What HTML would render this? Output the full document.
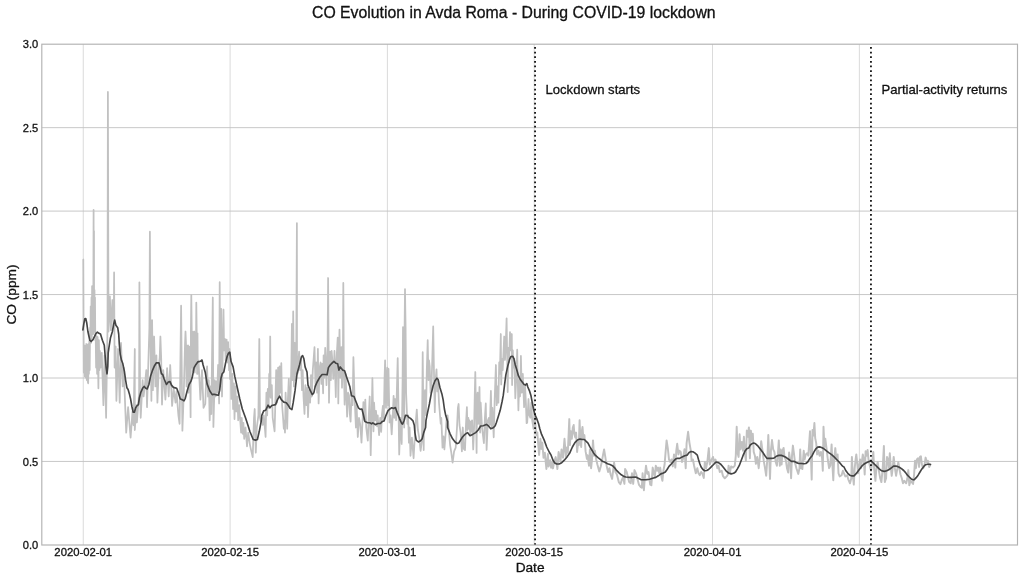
<!DOCTYPE html>
<html lang="en"><head><meta charset="utf-8"><title>CO Evolution in Avda Roma - During COVID-19 lockdown</title>
<style>html,body{margin:0;padding:0;background:#fff;overflow:hidden}svg{display:block}</style></head>
<body>
<svg width="1024" height="581" viewBox="0 0 1024 581">
<rect width="1024" height="581" fill="#fff"/>
<path d="M83.25 44.2V544.9M230.08 44.2V544.9M387.40 44.2V544.9M534.23 44.2V544.9M712.53 44.2V544.9M859.36 44.2V544.9" stroke="#d0d0d0" stroke-width="0.8" fill="none"/>
<path d="M41.8 461.45H1017.5M41.8 378.00H1017.5M41.8 294.55H1017.5M41.8 211.10H1017.5M41.8 127.65H1017.5" stroke="#c2c2c2" stroke-width="0.9" fill="none"/>
<path d="M83.3 259.5L83.8 372.6L84.3 345.3L84.8 376.4L85.3 345.9L85.8 377.6L86.3 344.0L86.8 380.1L87.3 344.6L87.8 382.0L88.2 383.3L88.6 344.0L88.9 373.8L89.3 340.9L89.7 370.1L90.1 327.7L90.3 340.2L90.7 306.3L91.1 342.8L91.5 297.5L91.8 337.7L92.1 286.2L92.5 331.5L92.8 296.3L93.2 334.0L93.6 209.9L93.7 308.8L94.0 231.0L94.1 327.7L94.5 290.0L94.7 331.5L95.0 297.5L95.3 340.2L95.7 336.5L96.1 367.6L96.6 336.0L97.1 373.8L97.6 337.1L98.4 388.3L98.9 340.2L99.4 370.1L99.9 350.9L100.6 367.6L101.8 352.8L103.4 405.2L104.6 355.3L106.1 417.8L107.5 327.7L107.9 91.9L108.5 331.5L109.9 296.3L110.9 330.2L112.4 300.0L113.7 327.7L114.1 272.4L114.6 367.6L115.6 346.5L116.4 400.8L118.1 349.0L119.7 402.7L121.0 342.8L122.7 386.4L123.7 367.6L126.2 432.6L128.1 407.1L130.6 437.6L132.5 411.5L133.5 425.3L134.8 349.0L134.8 430.0L136.3 405.2L136.9 422.5L139.1 392.7L139.4 282.3L140.1 392.7L140.7 417.8L142.6 380.1L143.6 396.5L144.8 386.4L146.3 370.1L147.0 407.1L148.2 367.6L149.4 327.7L149.9 231.7L150.4 334.0L151.4 400.8L152.1 320.1L152.9 390.2L154.1 336.5L155.4 386.4L156.4 355.3L157.4 402.7L158.9 365.0L159.7 357.5L160.4 336.5L161.2 358.8L162.0 404.6L163.3 370.1L165.4 399.6L167.1 368.2L168.7 396.5L170.2 365.0L172.1 405.9L173.7 388.9L175.5 402.7L176.5 391.4L178.4 415.3L179.6 423.8L181.1 305.7L182.4 430.7L183.8 392.7L185.0 344.0L185.5 331.5L186.0 344.0L186.5 386.4L187.0 345.9L187.5 380.1L188.0 345.3L188.5 392.7L189.1 346.5L189.6 390.2L189.9 347.2L190.6 417.2L190.9 331.5L191.3 295.0L191.7 327.7L192.2 367.6L192.6 331.5L192.9 371.3L193.3 332.1L193.8 367.6L194.3 331.5L194.8 372.6L195.3 332.7L195.7 367.6L196.1 331.5L196.3 302.6L196.7 331.5L197.1 373.8L197.5 333.3L197.8 373.8L198.5 360.3L200.4 399.6L202.0 370.1L203.5 407.8L205.3 404.0L206.3 373.8L207.1 366.3L208.0 396.5L208.8 380.1L209.7 420.3L210.5 386.4L211.3 414.0L212.8 297.5L213.4 426.9L214.7 380.1L215.6 396.5L216.3 381.4L217.2 392.7L218.1 365.0L219.1 403.4L219.7 282.2L220.3 386.4L221.2 308.8L222.0 396.5L223.5 309.5L224.1 350.3L225.1 339.0L225.6 360.3L226.6 339.6L227.4 362.5L228.1 342.1L229.1 370.1L229.5 349.0L230.0 378.9L230.6 358.8L231.3 399.0L232.3 373.8L233.1 409.0L233.9 383.3L234.5 419.1L235.4 386.4L236.4 411.5L237.4 396.5L238.2 420.3L239.2 405.2L241.1 432.6L241.7 417.8L242.7 433.8L243.4 422.8L244.2 438.8L245.5 427.5L247.0 446.4L248.2 432.6L250.0 445.1L251.1 450.1L252.7 457.1L254.0 417.8L254.7 409.0L255.8 452.7L256.8 427.5L258.4 415.3L259.3 339.0L260.0 417.8L260.8 421.3L261.8 417.8L262.8 425.0L263.8 415.3L265.6 437.0L266.4 392.7L267.2 415.3L267.8 388.9L268.6 407.8L269.2 373.8L269.6 396.5L270.2 336.5L270.7 397.7L271.8 385.1L272.7 417.8L274.6 431.3L275.6 392.7L276.2 370.1L277.1 402.7L278.1 367.6L279.0 396.5L279.6 366.3L280.4 392.7L281.3 363.2L282.1 405.2L282.9 415.3L283.8 428.8L284.4 420.3L285.0 432.6L285.6 392.7L287.2 428.8L287.9 399.0L288.8 378.9L289.7 407.8L290.7 391.4L291.4 362.5L291.9 323.9L292.6 380.1L293.2 311.4L293.9 386.4L294.7 342.8L295.4 380.1L296.2 362.5L296.9 223.0L297.0 362.5L297.6 373.8L299.1 351.6L300.0 370.1L301.0 358.8L302.0 390.2L302.7 370.1L303.5 396.5L304.5 414.0L305.4 385.1L306.4 405.2L307.3 387.7L308.0 417.2L309.0 390.2L310.1 402.7L311.0 375.1L311.8 396.5L312.8 370.1L314.5 347.2L315.5 386.4L316.4 362.5L317.1 392.7L317.9 348.8L318.6 403.4L319.6 367.6L320.6 362.5L321.4 383.9L322.2 363.8L323.1 393.3L323.6 355.3L324.3 377.6L325.2 347.8L326.5 385.1L327.6 345.3L328.1 278.0L328.6 346.5L329.0 402.7L330.0 351.6L330.9 380.1L331.6 350.9L332.5 362.5L333.3 378.9L334.5 350.9L335.8 397.1L336.5 360.0L337.7 337.7L338.3 403.4L338.9 355.0L339.5 329.6L340.3 377.6L340.8 357.5L341.4 347.2L342.0 387.7L342.9 360.0L343.3 282.9L343.8 362.5L344.6 404.6L345.6 373.8L346.3 392.7L347.1 416.6L348.1 392.7L349.0 395.2L349.8 414.0L350.6 421.6L351.6 392.7L352.6 405.2L353.4 357.2L354.4 392.7L355.9 427.5L356.6 405.2L357.8 437.0L359.0 417.8L360.3 425.0L361.5 442.6L363.4 402.1L364.4 420.3L365.3 399.6L366.2 427.5L367.8 440.7L368.8 415.3L369.7 396.5L370.7 455.2L371.7 411.5L372.4 378.2L373.5 431.3L374.1 402.7L375.0 420.3L376.0 410.9L377.0 426.3L377.7 415.3L379.1 435.1L380.2 417.8L381.2 431.9L382.0 414.0L382.9 405.9L383.8 420.3L384.5 380.1L385.1 360.3L386.0 407.8L386.8 373.8L387.3 367.6L388.0 405.2L388.5 368.8L389.5 422.5L390.5 415.3L391.7 434.4L392.8 414.0L393.6 395.8L394.4 417.8L395.2 399.0L396.1 420.3L396.8 392.7L397.7 358.1L399.2 454.5L400.5 417.8L401.7 443.9L402.6 380.1L403.0 327.1L403.6 392.7L404.2 427.5L404.6 326.4L405.0 289.1L405.6 327.7L406.1 392.7L407.4 423.8L408.1 415.3L408.9 442.6L409.6 427.5L410.5 455.8L411.9 437.6L413.6 458.3L414.9 435.1L415.9 420.3L416.8 409.6L417.9 430.0L419.2 437.6L420.6 450.8L421.9 441.4L422.7 352.2L423.7 450.1L424.3 396.5L425.0 390.2L426.0 415.3L426.8 370.1L427.7 340.2L428.5 380.1L429.0 360.3L429.7 366.3L430.6 392.7L431.5 385.1L432.2 362.5L433.2 326.4L434.0 373.8L434.8 412.2L435.6 380.1L436.5 369.4L437.3 391.4L438.1 383.9L439.0 402.7L440.7 423.8L441.3 417.8L442.5 447.6L443.5 436.3L444.4 449.5L445.7 432.6L446.6 419.1L447.6 415.3L448.8 430.0L450.1 445.1L451.3 452.7L452.6 462.7L454.1 451.4L455.7 447.6L457.0 427.5L457.9 407.8L458.6 404.0L459.5 425.0L460.6 432.6L461.9 451.4L462.8 427.5L463.8 448.9L465.0 450.1L466.0 423.8L466.9 407.1L467.5 430.0L468.3 417.8L469.0 428.8L469.4 420.3L470.3 435.1L471.1 421.6L471.6 431.3L472.1 420.3L473.2 449.5L474.1 427.5L474.8 392.7L475.3 372.0L476.6 452.9L477.1 396.5L477.6 392.7L478.3 423.8L479.5 387.0L480.1 432.6L480.7 402.7L482.0 427.5L483.9 443.2L484.9 417.8L485.8 403.4L486.6 449.9L487.9 420.3L488.9 417.8L489.9 425.0L490.9 390.8L491.7 427.5L492.4 407.8L493.7 437.3L494.7 399.0L495.9 365.0L496.7 405.2L497.7 386.4L498.4 402.7L499.2 362.5L499.9 373.8L500.8 334.0L501.2 384.5L502.0 358.8L502.7 370.1L504.2 336.5L505.0 360.0L505.7 345.3L506.6 318.3L507.7 392.1L508.4 347.8L509.0 362.5L510.0 332.1L510.9 350.3L511.8 334.0L512.1 385.1L512.8 350.3L513.4 367.6L514.3 358.8L515.3 398.3L516.3 377.6L517.2 349.7L518.4 410.3L519.3 380.1L520.0 396.5L520.9 355.9L521.8 392.7L522.8 373.8L524.1 407.1L525.1 386.4L525.9 402.7L526.6 423.1L527.2 422.8L528.5 399.0L529.3 415.3L530.3 417.8L531.3 402.7L532.2 420.3L533.5 428.8L534.4 414.0L535.4 423.8L536.4 435.1L537.3 432.6" stroke="#c1c1c1" stroke-width="1.75" fill="none" stroke-linejoin="round" stroke-linecap="round"/>
<path d="M537.3 432.6L539.1 454.9L540.4 438.8L541.4 448.9L542.3 442.6L543.5 457.7L544.8 452.7L546.4 469.0L547.9 453.9L548.6 466.5L550.2 460.2L551.1 467.7L552.3 462.7L553.0 468.4L554.2 461.5L555.7 457.1L557.4 469.0L558.6 452.0L560.5 461.5L561.5 449.5L563.0 457.7L564.5 438.8L565.8 456.4L566.8 447.6L567.8 452.7L569.3 419.1L569.9 445.1L570.8 431.3L571.8 438.8L572.8 427.5L573.7 425.0L574.3 433.8L575.3 437.6L576.1 432.6L577.1 452.0L578.1 442.6L578.8 445.1L579.6 420.3L580.3 438.8L581.2 447.0L581.8 431.3L582.5 426.9L583.4 438.8L584.4 435.1L585.6 451.4L586.9 458.9L587.5 455.2L589.0 465.7L589.9 449.4L591.1 468.2L592.0 459.5L593.0 440.4L594.0 455.7L594.9 450.7L596.2 459.5L597.4 464.5L599.3 471.4L600.6 467.0L601.8 462.0L603.1 454.4L604.1 449.4L605.3 456.9L606.6 465.7L608.1 472.0L609.4 468.2L610.6 474.5L612.1 478.9L613.1 470.8L614.1 462.6L615.4 472.0L616.9 474.5L618.8 482.1L620.4 484.3L621.9 479.6L623.2 477.0L624.4 483.9L625.1 468.9L626.7 472.0L627.9 477.0L629.2 482.1L630.7 483.3L632.0 473.3L633.2 483.9L634.5 470.1L636.0 473.3L637.6 479.6L638.9 484.6L640.8 487.1L641.8 487.7L642.6 473.3L643.9 490.2L645.2 473.3L646.0 465.7L647.3 473.9L648.5 472.0L650.2 484.6L651.4 485.2L652.7 467.6L653.9 473.3L654.8 477.0L655.8 465.7L657.1 470.8L658.1 467.6L659.3 473.3L660.2 467.6L661.5 477.0L662.4 480.8L663.4 470.8L664.6 464.5L665.6 451.9L666.6 440.4L667.8 448.1L669.0 459.5L670.3 462.0L671.5 459.5L672.8 466.4L674.0 454.4L675.3 467.6L676.3 450.7L677.2 443.8L678.4 454.4L679.4 450.7L680.7 451.9L682.0 462.0L683.2 458.2L684.5 449.2L685.7 468.2L686.6 443.1L688.1 431.8L689.5 443.1L690.8 450.7L691.6 460.7L692.9 459.5L694.1 465.7L695.8 473.3L697.3 468.2L698.5 473.3L699.8 475.2L701.1 472.0L702.3 473.3L703.8 478.0L704.8 462.0L706.1 468.2L707.3 462.0L708.8 448.1L709.8 464.5L711.1 460.7L713.0 456.9L714.2 462.0L715.5 459.5L717.3 468.2L718.5 465.7L719.8 472.0L721.7 470.8L722.9 475.8L724.8 478.3L726.7 476.4L727.9 474.5L728.6 465.7L729.8 473.3L731.1 466.4L733.0 467.6L734.8 465.7L735.8 455.7L736.7 426.8L737.6 453.2L738.6 456.9L739.6 434.3L740.5 449.4L741.8 441.9L743.0 450.7L743.9 436.8L744.9 453.2L745.9 460.7L746.8 430.6L747.7 436.8L748.9 427.4L749.9 458.2L750.9 430.6L751.8 440.6L752.8 433.7L753.7 451.9L754.9 455.7L755.9 463.8L757.2 456.9L758.7 468.2L760.0 455.7L761.2 441.2L762.5 450.7L763.7 460.7L765.0 468.2L766.2 475.8L767.5 455.7L768.3 435.0L769.3 459.5L770.0 478.9L771.0 449.4L772.0 440.0L773.2 449.4L774.4 451.9L775.7 462.0L776.9 465.7L777.8 455.7L778.8 440.4L779.8 465.7L780.7 449.4L781.6 464.5L782.6 450.7L783.6 447.9L784.5 456.9L785.7 459.5L787.0 468.2L788.2 472.6L789.1 452.5L790.1 459.5L791.1 478.3L792.0 455.7L792.9 445.6L793.9 453.2L795.1 463.2L796.4 468.2L798.3 473.9L799.5 468.2L800.2 449.4L801.2 468.2L802.4 468.9L803.7 450.7L804.6 459.5L805.8 454.4L807.1 453.2L808.3 455.7L809.2 443.1L810.0 431.2L810.8 453.2L811.7 479.6L812.5 429.9L813.4 435.6L814.4 423.0L815.2 438.1L816.2 443.1L817.1 454.4L818.4 450.7L819.6 455.7L820.9 451.9L822.1 458.2L822.8 470.8L823.5 426.8L824.4 446.9L825.3 438.7L826.5 448.1L827.8 459.5L829.1 468.2L830.3 465.7L831.6 444.4L832.6 468.2L833.3 480.2L834.1 459.5L835.3 448.1L836.3 459.5L837.6 454.4L838.5 473.3L839.7 476.4L841.6 475.2L842.9 470.8L844.0 473.3L845.3 476.4L847.1 475.2L848.4 479.6L850.0 483.3L851.3 478.3L851.9 456.9L852.8 474.5L853.8 484.6L854.7 468.2L855.6 459.5L856.3 454.4L857.2 463.2L858.1 473.3L859.1 465.7L860.1 459.5L861.0 468.2L862.0 460.7L862.8 454.4L863.8 459.5L864.7 474.5L865.6 451.3L866.6 455.7L867.6 450.0L868.5 459.5L869.8 465.7L871.0 470.8L872.3 462.0L873.3 451.9L874.1 468.2L875.4 480.8L876.4 468.2L877.7 462.0L878.9 470.8L880.2 478.3L881.4 482.1L882.7 468.2L883.9 445.9L884.8 482.1L886.1 478.3L887.0 456.9L888.0 459.5L889.0 468.2L889.8 453.2L890.7 465.7L891.7 475.8L892.7 468.2L893.7 456.9L894.9 468.2L896.1 475.8L897.4 468.2L898.3 462.0L899.3 468.2L900.5 474.5L901.8 478.3L903.0 483.3L904.3 480.8L906.2 483.3L907.4 478.3L908.3 470.1L909.3 485.2L910.6 480.8L911.8 482.1L913.1 483.9L914.1 474.5L915.0 460.7L915.9 468.2L916.9 459.5L918.1 458.2L919.1 467.0L920.0 456.9L920.9 456.3L921.9 464.5L923.1 468.2L924.4 465.7L925.6 457.6L926.7 462.0L927.9 460.7L929.2 467.0L930.4 464.5" stroke="#c1c1c1" stroke-width="1.95" fill="none" stroke-linejoin="round" stroke-linecap="round"/>
<path d="M82.9 329.9L83.8 323.9L84.8 318.9L85.8 318.6L86.7 322.7L87.9 331.5L89.8 340.2L91.1 341.5L93.0 339.6L94.8 335.8L96.1 333.3L97.4 332.1L98.9 333.3L100.5 334.0L102.4 340.2L104.3 345.3L105.1 355.3L106.1 367.6L107.0 373.8L107.8 366.3L108.2 352.8L108.9 347.8L110.5 337.7L112.4 331.5L113.7 323.9L114.7 320.1L115.9 325.2L117.7 327.7L118.7 334.0L119.3 344.0L120.2 354.1L121.5 360.3L122.7 363.2L124.4 371.3L125.6 380.1L126.9 387.7L128.1 389.5L129.4 393.9L130.6 399.0L131.9 406.5L133.2 412.2L134.4 412.2L135.7 407.8L136.9 405.9L138.4 404.6L139.4 397.7L140.7 392.7L142.6 388.3L144.1 386.4L145.7 388.3L147.2 388.9L148.9 384.5L150.7 375.7L152.6 370.1L154.5 365.7L156.4 362.8L158.9 362.8L160.2 367.6L161.4 373.8L162.7 374.5L163.9 378.2L165.4 382.0L166.4 384.5L168.3 382.0L170.0 381.6L171.5 385.1L173.4 387.4L175.2 387.9L176.7 388.3L178.4 392.7L180.3 399.0L182.1 399.6L184.0 400.8L185.3 398.3L187.2 390.8L189.1 384.5L190.9 381.4L192.2 377.6L194.1 367.6L196.0 364.4L197.8 361.9L200.4 361.3L202.0 360.0L203.1 365.0L205.3 372.6L207.1 383.9L209.7 390.8L212.2 394.6L214.0 394.2L216.6 394.9L218.4 395.2L219.7 390.2L221.0 378.2L222.2 373.8L223.8 372.0L225.4 363.8L227.2 356.3L228.5 353.1L229.8 352.2L231.0 361.3L233.1 366.9L234.8 376.4L237.3 387.7L239.8 399.0L242.3 409.0L245.5 417.8L248.6 427.2L249.8 431.3L253.2 439.5L255.5 440.1L257.4 439.5L259.3 431.3L261.2 421.3L261.8 415.3L263.7 410.9L265.6 410.3L268.1 405.2L269.9 407.8L271.8 405.5L275.6 404.6L277.5 399.6L279.6 396.2L281.3 399.6L283.8 402.1L286.3 402.7L288.2 405.2L290.0 408.4L291.9 409.6L293.2 402.7L295.1 390.2L297.0 373.8L299.5 365.0L301.4 356.9L302.6 355.6L303.9 358.8L305.1 366.9L307.0 372.0L308.0 385.1L310.1 390.2L312.3 394.6L313.9 392.7L315.2 386.4L317.1 382.0L319.6 377.6L322.1 374.5L324.6 374.5L327.1 374.8L328.4 367.6L330.2 365.0L332.0 363.2L333.9 361.3L335.8 363.2L337.7 363.8L338.9 370.1L340.2 366.9L342.7 370.1L344.6 370.7L346.4 376.4L348.3 382.0L349.8 386.4L351.5 395.8L354.0 396.5L355.9 401.5L358.4 407.8L360.3 409.3L361.9 409.0L363.2 414.0L364.9 421.6L367.2 422.6L369.7 422.8L371.6 423.8L372.8 422.8L375.3 424.7L377.8 423.5L380.4 423.5L382.2 421.6L384.1 420.9L386.0 415.3L387.9 410.9L389.8 409.0L391.7 407.8L393.6 408.4L395.4 407.5L397.3 412.8L399.8 419.1L401.7 423.5L402.6 424.1L404.2 420.3L405.5 415.3L407.4 415.5L408.6 417.2L410.5 418.4L413.0 420.9L414.3 425.3L414.9 432.6L416.2 440.1L418.4 442.0L420.6 440.7L422.2 438.8L423.7 432.6L425.6 427.5L426.0 420.3L427.5 412.8L429.4 404.0L431.2 393.9L433.1 385.8L435.0 380.8L436.9 378.2L438.1 379.5L440.0 387.7L441.9 393.9L443.2 400.2L444.4 409.0L445.7 415.3L447.6 421.6L447.6 427.5L450.1 433.8L452.6 438.8L455.1 442.0L457.2 443.6L458.9 442.9L462.5 437.0L465.0 434.4L467.5 432.6L470.0 435.7L472.6 434.4L475.7 432.6L478.2 430.0L480.7 426.0L483.2 425.7L486.4 424.4L488.3 425.7L490.8 428.8L493.3 427.8L495.2 425.7L496.4 422.5L498.3 416.6L500.2 410.3L502.1 401.5L503.3 395.2L504.6 384.5L505.8 375.1L507.7 366.3L509.6 359.4L510.9 356.5L512.8 356.3L514.0 358.8L515.3 365.0L517.2 371.3L518.4 375.7L520.3 379.5L522.2 382.0L524.1 384.5L525.3 385.1L526.8 383.6L527.8 387.0L529.7 391.4L531.0 395.8L532.2 402.1L533.5 409.0L534.7 414.0L536.6 418.4L538.5 423.5L539.8 428.8L541.6 434.4L544.2 440.1L546.7 447.0L549.2 452.0L551.1 455.2L553.0 460.2L554.8 463.0L556.7 464.0L559.2 464.0L561.7 462.7L564.3 460.2L567.4 456.4L569.9 452.7L572.4 447.0L574.9 442.6L577.4 440.1L580.0 439.1L582.5 439.5L584.4 439.5L586.2 441.4L588.0 443.2L589.9 446.9L591.8 450.0L593.7 453.2L595.5 455.4L598.0 457.6L600.6 459.7L602.4 461.3L605.0 462.2L607.5 463.8L610.0 464.5L612.5 465.7L614.4 467.6L616.3 470.1L618.8 472.6L621.3 474.8L623.8 476.4L625.7 477.0L628.8 477.3L632.0 477.3L635.7 477.0L638.2 478.3L640.8 479.6L643.3 479.8L646.4 479.6L649.6 479.3L652.7 478.3L655.8 477.4L658.3 475.8L660.9 473.9L663.4 473.0L665.3 472.0L667.1 469.5L669.0 466.4L671.5 463.8L674.0 460.7L675.9 458.8L677.8 458.2L679.7 458.4L682.2 456.9L684.7 455.7L687.2 455.1L689.1 452.5L691.0 451.5L692.9 451.7L694.8 452.9L697.3 455.1L698.5 459.5L699.8 463.8L701.1 467.0L702.9 469.5L704.8 470.8L706.7 470.5L708.6 469.5L710.5 467.6L712.4 465.7L714.2 463.8L716.0 462.0L718.5 462.6L721.0 464.5L723.5 467.6L726.0 470.8L728.6 473.0L731.1 473.9L733.6 473.3L735.5 472.0L737.4 468.9L739.2 465.7L741.1 460.7L743.0 455.7L744.9 451.3L746.8 448.8L748.7 448.1L750.2 445.0L751.8 443.8L753.7 443.1L755.6 443.8L757.5 445.6L760.0 448.8L762.5 451.9L765.0 455.7L766.9 458.4L768.8 458.2L771.3 458.4L773.8 458.2L776.3 456.3L778.8 455.4L781.3 455.4L783.8 456.3L786.3 457.6L788.9 459.5L791.4 461.3L793.9 461.3L796.4 462.6L798.9 463.5L801.4 463.5L803.9 463.8L805.8 463.5L807.7 462.0L809.6 458.8L812.1 455.7L814.0 451.9L815.9 448.8L817.7 447.1L819.6 446.9L821.5 447.5L824.0 448.8L826.5 450.9L829.1 452.9L831.6 454.7L834.1 456.9L836.6 459.5L839.1 462.0L841.6 465.1L842.9 466.4L844.0 467.0L845.9 470.8L847.8 473.3L849.7 475.2L851.5 475.8L854.0 475.8L855.9 473.9L857.8 471.4L859.7 468.9L861.6 466.4L863.5 464.5L865.4 463.2L867.9 462.0L870.4 461.0L872.3 462.0L874.1 463.8L876.7 466.4L879.2 468.9L881.7 470.8L884.2 471.4L886.7 470.8L889.2 469.5L891.7 467.6L893.6 466.1L895.5 466.0L897.4 466.4L899.3 467.2L901.8 468.9L903.7 470.5L905.6 472.6L907.4 475.2L909.3 477.0L911.2 478.9L913.1 479.8L914.3 479.6L916.2 477.7L918.1 475.2L920.0 472.0L921.9 468.9L923.8 466.4L925.6 464.7L927.5 464.2L929.4 464.2L930.4 464.5" stroke="#444444" stroke-width="1.65" fill="none" stroke-linejoin="round" stroke-linecap="round"/>
<path d="M535.05 544.9V44.2" stroke="#111" stroke-width="1.8" stroke-dasharray="1.75 2.887" fill="none"/>
<path d="M870.95 544.9V44.2" stroke="#111" stroke-width="1.8" stroke-dasharray="1.75 2.887" fill="none"/>
<rect x="41.8" y="44.2" width="975.70" height="500.80" fill="none" stroke="#b2b2b2" stroke-width="1.15"/>
<g font-family="'Liberation Sans', Arial, sans-serif" fill="#111" stroke="#111" stroke-width="0.3" stroke-linejoin="round">
<text x="513.8" y="18.3" font-size="15.8px" text-anchor="middle">CO Evolution in Avda Roma - During COVID-19 lockdown</text>
<text x="83.25" y="556.4" font-size="11.3px" text-anchor="middle">2020-02-01</text>
<text x="230.08" y="556.4" font-size="11.3px" text-anchor="middle">2020-02-15</text>
<text x="387.40" y="556.4" font-size="11.3px" text-anchor="middle">2020-03-01</text>
<text x="534.23" y="556.4" font-size="11.3px" text-anchor="middle">2020-03-15</text>
<text x="712.53" y="556.4" font-size="11.3px" text-anchor="middle">2020-04-01</text>
<text x="859.36" y="556.4" font-size="11.3px" text-anchor="middle">2020-04-15</text>
<text x="38.2" y="549.00" font-size="11.1px" text-anchor="end">0.0</text>
<text x="38.2" y="465.55" font-size="11.1px" text-anchor="end">0.5</text>
<text x="38.2" y="382.10" font-size="11.1px" text-anchor="end">1.0</text>
<text x="38.2" y="298.65" font-size="11.1px" text-anchor="end">1.5</text>
<text x="38.2" y="215.20" font-size="11.1px" text-anchor="end">2.0</text>
<text x="38.2" y="131.75" font-size="11.1px" text-anchor="end">2.5</text>
<text x="38.2" y="48.30" font-size="11.1px" text-anchor="end">3.0</text>
<text x="530.1" y="572" font-size="13.7px" text-anchor="middle">Date</text>
<text transform="translate(16.2 294.5) rotate(-90)" font-size="13.7px" text-anchor="middle">CO (ppm)</text>
<text x="545.5" y="94.2" font-size="13.1px">Lockdown starts</text>
<text x="881.5" y="94.2" font-size="13.1px">Partial-activity returns</text>
</g></svg>
</body></html>
